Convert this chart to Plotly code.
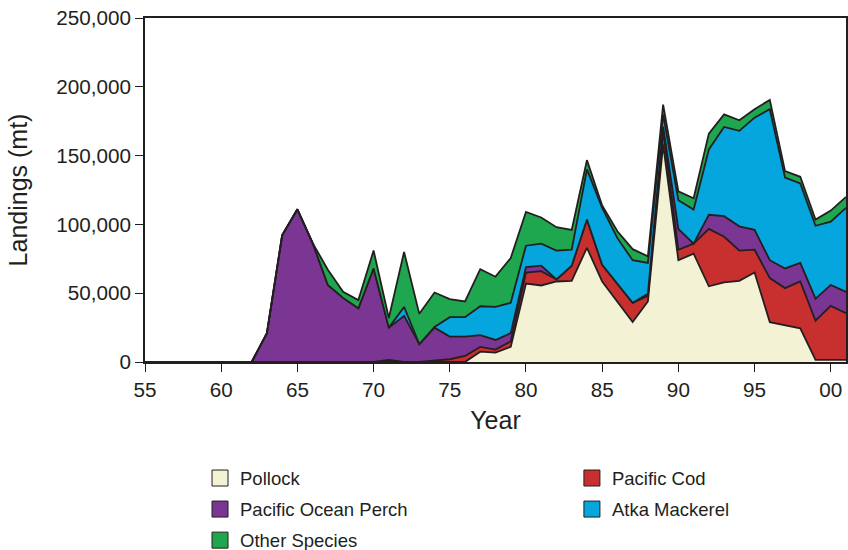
import plotly.graph_objects as go

years = list(range(1955, 2002))

pollock = [0,0,0,0,0,0,0,0,0,0, 0,0,0,0,0, 0,0,0,0,0, 0,0,7.5,6.8,11, 57,55.6,58.5,59,83, 58.5,44,29,44,158, 74,78.7,55,57.8,59, 65,29,27,24.5,1.5, 1.5,1.5]
cod = [0,0,0,0,0,0,0,0,0,0, 0,0,0,0,0, 0,1.5,0,0,1, 2,4.4,3.5,2.2,4, 8,10.4,1.5,11,20.5, 12.2,13,14,4,10, 7.6,7.3,41.7,33.2,22, 16.6,32,26.7,34,28.5, 39.3,34]
pop = [0,0,0,0,0,0,0,0,21,92, 111,86.5,56,46.6,39, 68,23.5,33.5,13,24, 16.5,14.1,8.5,7,6, 4,4,0,0,0, 0,0,0,1.5,3, 15.1,0,10.3,15,17.6, 14.4,13,14.3,13.5,16, 15.2,15.5]
atka = [0,0,0,0,0,0,0,0,0,0, 0,0,0,0,0, 0,0,6.5,0,0.5, 14.1,14.1,21,24,22, 15.5,16,21,11.6,36.5, 41.3,33,31,22.5,9, 20.9,24.8,47.5,64.8,69.4, 81.6,109.7,66,57.7,53, 46,61]
other = [0,0,0,0,0,0,0,0,0,0, 0,0,11,4.4,6, 13,7,40,22,25, 13.1,11.4,27,22,32.6, 24.5,19,17,14.4,6.7, 1.7,5,8,4.8,7, 6.4,8.2,11.5,9.2,7.7, 6.1,6.8,4.7,4.9,4.5, 8,8]

series = [
    ("Pollock", pollock, "#f4f2d5", "legend", 1),
    ("Pacific Cod", cod, "#c7302f", "legend2", 1),
    ("Pacific Ocean Perch", pop, "#7b3592", "legend", 2),
    ("Atka Mackerel", atka, "#05a5dd", "legend2", 2),
    ("Other Species", other, "#1fa750", "legend", 3),
]

OUTLINE = "#231f20"
fig = go.Figure()
for name, vals, col, lg, rank in series:
    fig.add_trace(go.Scatter(
        x=years, y=[v * 1000 for v in vals], name=name,
        mode="lines", stackgroup="one",
        line=dict(color=OUTLINE, width=1.8),
        fillcolor=col, showlegend=False,
    ))
# legend swatches (empty traces, legend only)
for name, vals, col, lg, rank in series:
    fig.add_trace(go.Scatter(
        x=[None], y=[None], name=name, mode="markers",
        marker=dict(symbol="square", size=16, color=col,
                    line=dict(color=OUTLINE, width=1)),
        legend=lg, legendrank=rank, legendgroup=name, showlegend=True,
    ))

font = dict(family="Liberation Sans, Arial, sans-serif", size=20.7, color="#231f20")
xt = [1955, 1960, 1965, 1970, 1975, 1980, 1985, 1990, 1995, 2000]
H, T, B = 550, 18, 188
plot_h = H - T - B
legend_top_px = 459.5
legend_common = dict(yanchor="top", xanchor="left", font=dict(size=18.5),
                     tracegroupgap=4, itemwidth=30, itemsizing="trace",
                     bgcolor="rgba(0,0,0,0)",
                     y=-(legend_top_px - (H - B)) / plot_h)
fig.update_layout(
    width=848, height=H,
    margin=dict(l=145, r=2, t=T, b=B, autoexpand=False),
    paper_bgcolor="white", plot_bgcolor="white",
    font=font,
    showlegend=True,
    xaxis=dict(range=[1955, 2001], tickvals=xt,
               ticktext=[f"{y % 100:02d}" for y in xt],
               ticks="outside", ticklen=8, tickcolor=OUTLINE,
               showline=True, linecolor=OUTLINE, linewidth=1.5, mirror=True,
               showgrid=False, zeroline=False, automargin=False,
               title=dict(text="Year", standoff=12)),
    yaxis=dict(range=[0, 250000], tickvals=[0, 50000, 100000, 150000, 200000, 250000],
               tickformat=",d", ticks="outside", ticklen=8, tickcolor=OUTLINE,
               showline=True, linecolor=OUTLINE, linewidth=1.5, mirror=True,
               showgrid=False, zeroline=False, automargin=False,
               title=dict(text="Landings (mt)", standoff=22)),
    legend=dict(x=0.0785, **legend_common),
    legend2=dict(x=0.609, **legend_common),
)
fig.write_html("out.html", config={"displayModeBar": False},
               post_script="document.body.style.margin='0';")
